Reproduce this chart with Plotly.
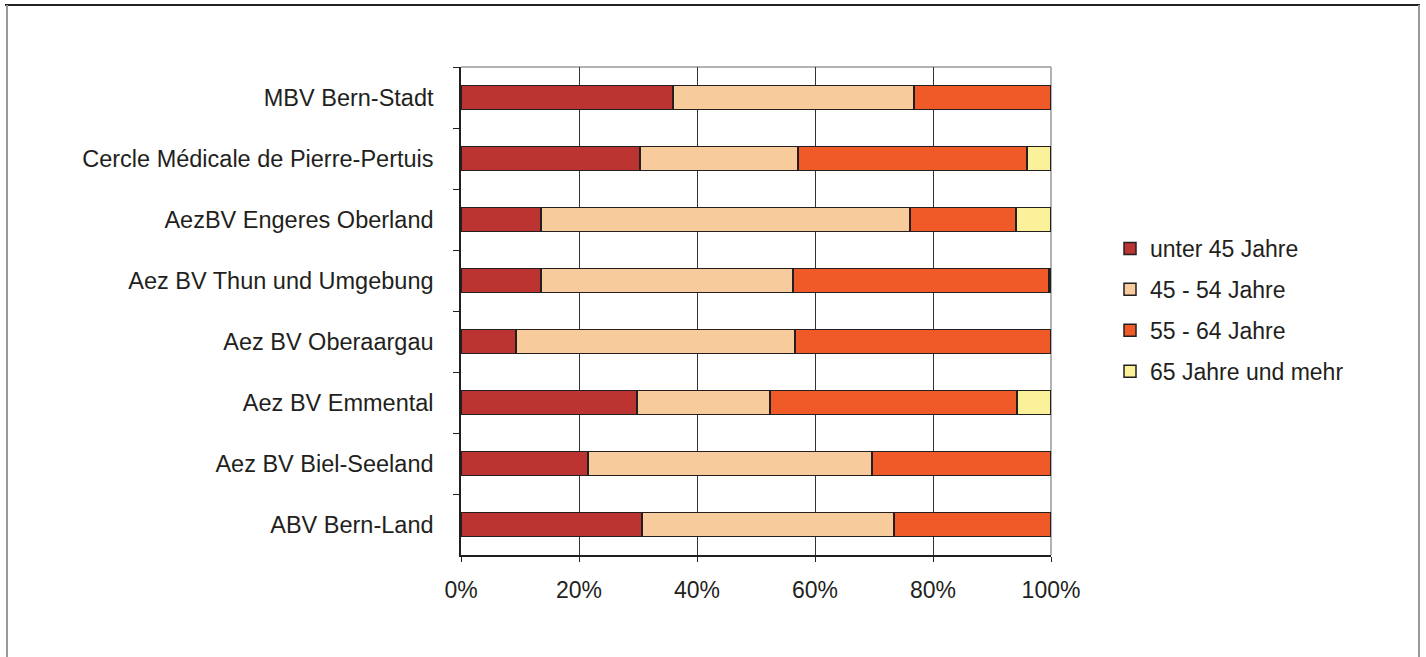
import plotly.graph_objects as go

categories = [
    "MBV Bern-Stadt",
    "Cercle Médicale de Pierre-Pertuis",
    "AezBV Engeres Oberland",
    "Aez BV Thun und Umgebung",
    "Aez BV Oberaargau",
    "Aez BV Emmental",
    "Aez BV Biel-Seeland",
    "ABV Bern-Land",
]
series_names = ["unter 45 Jahre", "45 - 54 Jahre", "55 - 64 Jahre", "65 Jahre und mehr"]
under45 = [35.9, 30.3, 13.6, 13.6, 9.3, 29.8, 21.5, 30.7]
age45_54 = [40.9, 26.8, 62.5, 42.7, 47.3, 22.6, 48.2, 42.7]
age55_64 = [23.2, 38.8, 18.0, 43.4, 43.4, 41.8, 30.3, 26.6]
age65plus = [0.0, 4.1, 5.9, 0.3, 0.0, 5.8, 0.0, 0.0]
colors = ["#BC3431", "#F8CB9D", "#F05A28", "#FBF19B"]

W, H = 1426, 657
L, R, T, B = 461, 1051, 67, 555
pw, ph = R - L, B - T

fig = go.Figure()
for i, (name, vals) in enumerate(zip(series_names, [under45, age45_54, age55_64, age65plus])):
    fig.add_trace(go.Bar(
        y=categories, x=[v / 100 for v in vals], name=name, orientation="h",
        marker=dict(color=colors[i], line=dict(color="#231F20", width=1.5)),
        legendgroup=f"g{i}",
    ))

def px_x(x):
    return (x - L) / pw

def px_y(y):
    return (B - y) / ph

font = "Liberation Sans, Arial, sans-serif"
shapes = [
    # outer frame
    dict(type="line", xref="paper", yref="paper", x0=px_x(5), x1=px_x(1420), y0=px_y(5), y1=px_y(5),
         line=dict(color="#222222", width=2)),
    dict(type="line", xref="paper", yref="paper", x0=px_x(7), x1=px_x(7), y0=px_y(5), y1=px_y(680),
         line=dict(color="#999999", width=2)),
    dict(type="line", xref="paper", yref="paper", x0=px_x(1419), x1=px_x(1419), y0=px_y(5), y1=px_y(680),
         line=dict(color="#999999", width=2)),
    # plot area top / right borders
    dict(type="line", xref="paper", yref="paper", x0=0, x1=1, y0=1, y1=1,
         line=dict(color="#999999", width=1.5), layer="between"),
    dict(type="line", xref="paper", yref="paper", x0=1, x1=1, y0=0, y1=1,
         line=dict(color="#999999", width=1.5), layer="between"),
]

fig.update_layout(
    width=W, height=H,
    margin=dict(l=L, r=W - R, t=T, b=H - B, autoexpand=False),
    paper_bgcolor="white", plot_bgcolor="white",
    barmode="stack", bargap=0.6,
    font=dict(family=font, size=23, color="#231F20"),
    showlegend=True,
    legend=dict(x=px_x(1110), y=px_y(310), xanchor="left", yanchor="middle",
                font=dict(size=23, color="#231F20"), tracegroupgap=8,
                traceorder="grouped", bgcolor="rgba(0,0,0,0)"),
    xaxis=dict(range=[0, 1], dtick=0.2, tick0=0, tickformat=".0%",
               showgrid=True, gridcolor="#333333", gridwidth=1,
               showline=True, linecolor="#231F20", linewidth=1.5,
               ticks="outside", ticklen=5, tickcolor="#231F20",
               tickfont=dict(size=23, color="#231F20"), ticklabelstandoff=9,
               zeroline=False, fixedrange=True),
    yaxis=dict(autorange="reversed", type="category", showgrid=False,
               showline=True, linecolor="#231F20", linewidth=1.5,
               ticks="outside", ticklen=6, tickcolor="#231F20", tickson="boundaries",
               tickfont=dict(size=23.5, color="#231F20"), ticklabelstandoff=21,
               fixedrange=True),
    shapes=shapes,
)

fig.write_html("out.html", config={"displayModeBar": False},
               post_script="document.body.style.margin='0';document.body.style.overflow='hidden';")
